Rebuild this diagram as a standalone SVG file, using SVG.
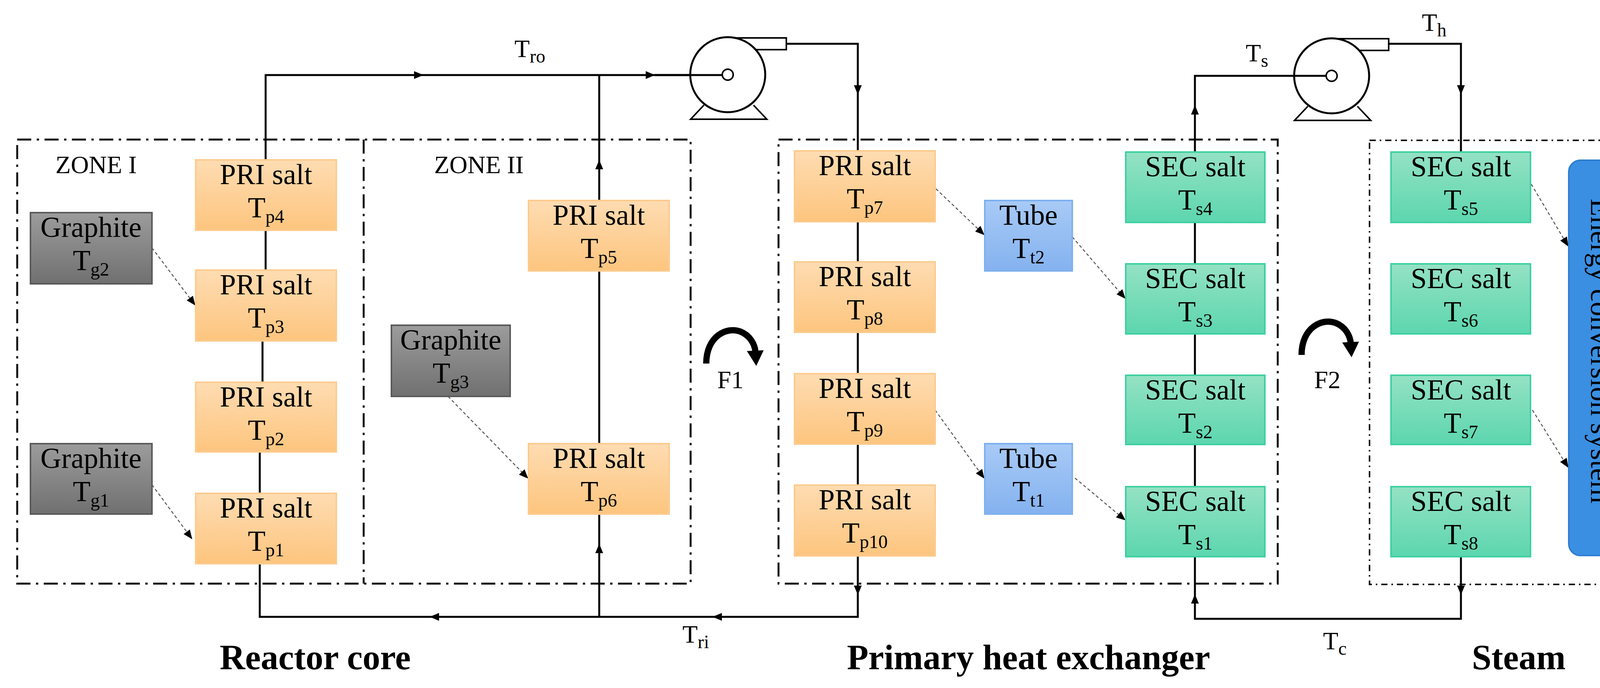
<svg xmlns="http://www.w3.org/2000/svg" width="4273" height="1760" viewBox="0 0 4273 1760">
<defs>
<linearGradient id="gp" x1="0" y1="0" x2="0" y2="1"><stop offset="0" stop-color="#fedcb2"/><stop offset="1" stop-color="#fdc57e"/></linearGradient>
<linearGradient id="gg" x1="0" y1="0" x2="0" y2="1"><stop offset="0" stop-color="#9c9c9c"/><stop offset="1" stop-color="#707070"/></linearGradient>
<linearGradient id="gt" x1="0" y1="0" x2="0" y2="1"><stop offset="0" stop-color="#a8caf6"/><stop offset="1" stop-color="#84b2ef"/></linearGradient>
<linearGradient id="gs" x1="0" y1="0" x2="0" y2="1"><stop offset="0" stop-color="#94e2c4"/><stop offset="1" stop-color="#5cd6ae"/></linearGradient>
<path id="ar" d="M0,0 L-24,-10 L-24,10 Z" fill="#000"/>
<marker id="dh" viewBox="0 0 24 20" refX="22" refY="10" markerWidth="24" markerHeight="20" orient="auto" markerUnits="userSpaceOnUse"><path d="M0,0 L24,10 L0,20 Z" fill="#000"/></marker>
</defs>
<style>
text{font-family:"Liberation Serif","Times New Roman",serif;fill:#000}
.lb{font-size:74px;text-anchor:middle}
.sub{font-size:48px}
.pri{fill:url(#gp);stroke:#fccb8e;stroke-width:4}
.gra{fill:url(#gg);stroke:#5a5a5a;stroke-width:4}
.tub{fill:url(#gt);stroke:#7db0ee;stroke-width:4}
.sec{fill:url(#gs);stroke:#3dd0a0;stroke-width:4}
.ln{fill:none;stroke:#000;stroke-width:5}
.dd{fill:none;stroke:#555;stroke-width:2.5;stroke-dasharray:8 6;marker-end:url(#dh)}
.zone{fill:none;stroke:#111;stroke-width:5;stroke-dasharray:36 14 6 14}
.zone2{fill:none;stroke:#111;stroke-width:4;stroke-dasharray:16 10 4 10}
.title{font-size:90px;font-weight:bold;text-anchor:middle}
.zl{font-size:64px;text-anchor:middle}
</style>

<g id="zones">
<rect class="zone" x="44" y="357" width="1724" height="1136"/>
<line class="zone" x1="931" y1="357" x2="931" y2="1493"/>
<rect class="zone" x="1993" y="357" width="1278" height="1136"/>
<rect class="zone2" x="3506" y="359" width="715" height="1136"/>
<text class="zl" x="246" y="443">ZONE I</text>
<text class="zl" x="1226" y="443">ZONE II</text>
</g>

<g id="connectors">
<path class="ln" d="M680,409 V192 H1863"/>
<path class="ln" d="M1534,1578 V192"/>
<path class="ln" d="M680,589 V691 M672,872 V978 M665,1156 V1262"/>
<path class="ln" d="M665,1442 V1578 H2196 V1422"/>
<path class="ln" d="M2013,112 H2196 V386"/>
<path class="ln" d="M2196,567 V670 M2196,850 V956 M2196,1136 V1241"/>
<path class="ln" d="M3059,389 V194 H3409"/>
<path class="ln" d="M3555,112 H3740 V389"/>
<path class="ln" d="M3059,569 V675 M3059,854 V960 M3059,1137 V1245"/>
<path class="ln" d="M3059,1424 V1583 H3740 V1424"/>
<use href="#ar" transform="translate(1084,192)"/>
<use href="#ar" transform="translate(1677,192)"/>
<use href="#ar" transform="translate(1534,409) rotate(-90)"/>
<use href="#ar" transform="translate(1534,1391) rotate(-90)"/>
<use href="#ar" transform="translate(1100,1578) rotate(180)"/>
<use href="#ar" transform="translate(1824,1578) rotate(180)"/>
<use href="#ar" transform="translate(2196,242) rotate(90)"/>
<use href="#ar" transform="translate(2196,1522) rotate(90)"/>
<use href="#ar" transform="translate(3059,269) rotate(-90)"/>
<use href="#ar" transform="translate(3059,1520) rotate(-90)"/>
<use href="#ar" transform="translate(3740,242) rotate(90)"/>
<use href="#ar" transform="translate(3740,1522) rotate(90)"/>
<path class="dd" d="M389,634 L499,780"/>
<path class="dd" d="M389,1240 L491,1378"/>
<path class="dd" d="M1147,1014 L1351,1223"/>
<path class="dd" d="M2396,483 L2519,600"/>
<path class="dd" d="M2745,606 L2880,763"/>
<path class="dd" d="M2394,1049 L2519,1223"/>
<path class="dd" d="M2752,1223 L2880,1330"/>
<path class="dd" d="M3920,471 L4014,629"/>
<path class="dd" d="M3923,1049 L4014,1195"/>
<text x="1317" y="146" font-size="64">T<tspan class="sub" dy="14">ro</tspan></text>
<text x="1747" y="1644" font-size="64">T<tspan class="sub" dy="14">ri</tspan></text>
<text x="3189" y="157" font-size="64">T<tspan class="sub" dy="14">s</tspan></text>
<text x="3640" y="79" font-size="64">T<tspan class="sub" dy="14">h</tspan></text>
<text x="3387" y="1661" font-size="64">T<tspan class="sub" dy="14">c</tspan></text>
</g>

<g id="pump1">
<rect x="1863" y="97" width="150" height="30" fill="#fff" stroke="#000" stroke-width="4"/>
<path d="M1802,269 L1768,305 H1963 L1929,269" fill="#fff" stroke="#000" stroke-width="4"/>
<circle cx="1863" cy="191" r="96" fill="#fff" stroke="#000" stroke-width="5"/>
<path class="ln" d="M1677,192 H1849"/>
<circle cx="1863" cy="191" r="14" fill="#fff" stroke="#000" stroke-width="4"/>
</g>
<g id="pump2">
<rect x="3409" y="99" width="146" height="30" fill="#fff" stroke="#000" stroke-width="4"/>
<path d="M3348,272 L3314,308 H3509 L3475,272" fill="#fff" stroke="#000" stroke-width="4"/>
<circle cx="3409" cy="194" r="96" fill="#fff" stroke="#000" stroke-width="5"/>
<path class="ln" d="M3313,194 H3395"/>
<circle cx="3409" cy="194" r="14" fill="#fff" stroke="#000" stroke-width="4"/>
</g>

<g id="Tp4"><rect class="pri" x="501" y="409" width="360" height="180"/><text class="lb" x="681" y="471">PRI salt</text><text class="lb" x="681" y="556">T<tspan class="sub" dy="14">p4</tspan></text></g>
<g id="Tp3"><rect class="pri" x="501" y="691" width="360" height="181"/><text class="lb" x="681" y="753">PRI salt</text><text class="lb" x="681" y="838">T<tspan class="sub" dy="14">p3</tspan></text></g>
<g id="Tp2"><rect class="pri" x="501" y="978" width="360" height="178"/><text class="lb" x="681" y="1040">PRI salt</text><text class="lb" x="681" y="1125">T<tspan class="sub" dy="14">p2</tspan></text></g>
<g id="Tp1"><rect class="pri" x="501" y="1262" width="360" height="180"/><text class="lb" x="681" y="1324">PRI salt</text><text class="lb" x="681" y="1409">T<tspan class="sub" dy="14">p1</tspan></text></g>
<g id="Tg2"><rect class="gra" x="78" y="544" width="311" height="182"/><text class="lb" x="233" y="606">Graphite</text><text class="lb" x="233" y="691">T<tspan class="sub" dy="14">g2</tspan></text></g>
<g id="Tg1"><rect class="gra" x="78" y="1135" width="311" height="180"/><text class="lb" x="233" y="1197">Graphite</text><text class="lb" x="233" y="1282">T<tspan class="sub" dy="14">g1</tspan></text></g>
<g id="Tp5"><rect class="pri" x="1353" y="513" width="360" height="180"/><text class="lb" x="1533" y="575">PRI salt</text><text class="lb" x="1533" y="660">T<tspan class="sub" dy="14">p5</tspan></text></g>
<g id="Tp6"><rect class="pri" x="1353" y="1135" width="360" height="180"/><text class="lb" x="1533" y="1197">PRI salt</text><text class="lb" x="1533" y="1282">T<tspan class="sub" dy="14">p6</tspan></text></g>
<g id="Tg3"><rect class="gra" x="1002" y="832" width="304" height="182"/><text class="lb" x="1154" y="894">Graphite</text><text class="lb" x="1154" y="979">T<tspan class="sub" dy="14">g3</tspan></text></g>

<g id="Tp7"><rect class="pri" x="2034" y="386" width="360" height="181"/><text class="lb" x="2214" y="448">PRI salt</text><text class="lb" x="2214" y="533">T<tspan class="sub" dy="14">p7</tspan></text></g>
<g id="Tp8"><rect class="pri" x="2034" y="670" width="360" height="180"/><text class="lb" x="2214" y="732">PRI salt</text><text class="lb" x="2214" y="817">T<tspan class="sub" dy="14">p8</tspan></text></g>
<g id="Tp9"><rect class="pri" x="2034" y="956" width="360" height="180"/><text class="lb" x="2214" y="1018">PRI salt</text><text class="lb" x="2214" y="1103">T<tspan class="sub" dy="14">p9</tspan></text></g>
<g id="Tp10"><rect class="pri" x="2034" y="1241" width="360" height="181"/><text class="lb" x="2214" y="1303">PRI salt</text><text class="lb" x="2214" y="1388">T<tspan class="sub" dy="14">p10</tspan></text></g>
<g id="Tt2"><rect class="tub" x="2521" y="513" width="224" height="180"/><text class="lb" x="2633" y="575">Tube</text><text class="lb" x="2633" y="660">T<tspan class="sub" dy="14">t2</tspan></text></g>
<g id="Tt1"><rect class="tub" x="2521" y="1135" width="224" height="180"/><text class="lb" x="2633" y="1197">Tube</text><text class="lb" x="2633" y="1282">T<tspan class="sub" dy="14">t1</tspan></text></g>
<g id="Ts4"><rect class="sec" x="2882" y="389" width="356" height="180"/><text class="lb" x="3060" y="451">SEC salt</text><text class="lb" x="3060" y="536">T<tspan class="sub" dy="14">s4</tspan></text></g>
<g id="Ts3"><rect class="sec" x="2882" y="675" width="356" height="179"/><text class="lb" x="3060" y="737">SEC salt</text><text class="lb" x="3060" y="822">T<tspan class="sub" dy="14">s3</tspan></text></g>
<g id="Ts2"><rect class="sec" x="2882" y="960" width="356" height="177"/><text class="lb" x="3060" y="1022">SEC salt</text><text class="lb" x="3060" y="1107">T<tspan class="sub" dy="14">s2</tspan></text></g>
<g id="Ts1"><rect class="sec" x="2882" y="1245" width="356" height="179"/><text class="lb" x="3060" y="1307">SEC salt</text><text class="lb" x="3060" y="1392">T<tspan class="sub" dy="14">s1</tspan></text></g>

<g id="Ts5"><rect class="sec" x="3561" y="389" width="357" height="180"/><text class="lb" x="3740" y="451">SEC salt</text><text class="lb" x="3740" y="536">T<tspan class="sub" dy="14">s5</tspan></text></g>
<g id="Ts6"><rect class="sec" x="3561" y="675" width="357" height="179"/><text class="lb" x="3740" y="737">SEC salt</text><text class="lb" x="3740" y="822">T<tspan class="sub" dy="14">s6</tspan></text></g>
<g id="Ts7"><rect class="sec" x="3561" y="960" width="357" height="177"/><text class="lb" x="3740" y="1022">SEC salt</text><text class="lb" x="3740" y="1107">T<tspan class="sub" dy="14">s7</tspan></text></g>
<g id="Ts8"><rect class="sec" x="3561" y="1245" width="357" height="179"/><text class="lb" x="3740" y="1307">SEC salt</text><text class="lb" x="3740" y="1392">T<tspan class="sub" dy="14">s8</tspan></text></g>
<g id="energy"><rect x="4016" y="410" width="164" height="1011" rx="30" fill="#3a8fe2" stroke="#2f7fd0" stroke-width="4"/><text class="lb" x="4098" y="898" writing-mode="vertical-rl" dominant-baseline="central">Energy conversion system</text></g>

<g id="F1"><path d="M1808,930 C1808,860 1860,835 1895,848 C1920,858 1932,880 1934,900" fill="none" stroke="#000" stroke-width="16"/><path d="M1912,898 L1955,896 L1936,936 Z" fill="#000"/><text x="1870" y="993" font-size="64" text-anchor="middle">F1</text></g>
<g id="F2"><path d="M3332,908 C3332,838 3384,813 3419,826 C3444,836 3456,858 3458,878" fill="none" stroke="#000" stroke-width="16"/><path d="M3436,876 L3479,874 L3460,914 Z" fill="#000"/><text x="3398" y="993" font-size="64" text-anchor="middle">F2</text></g>

<text class="title" x="807" y="1712">Reactor core</text>
<text class="title" x="2633" y="1712">Primary heat exchanger</text>
<text class="title" x="3888" y="1712">Steam</text>
</svg>
